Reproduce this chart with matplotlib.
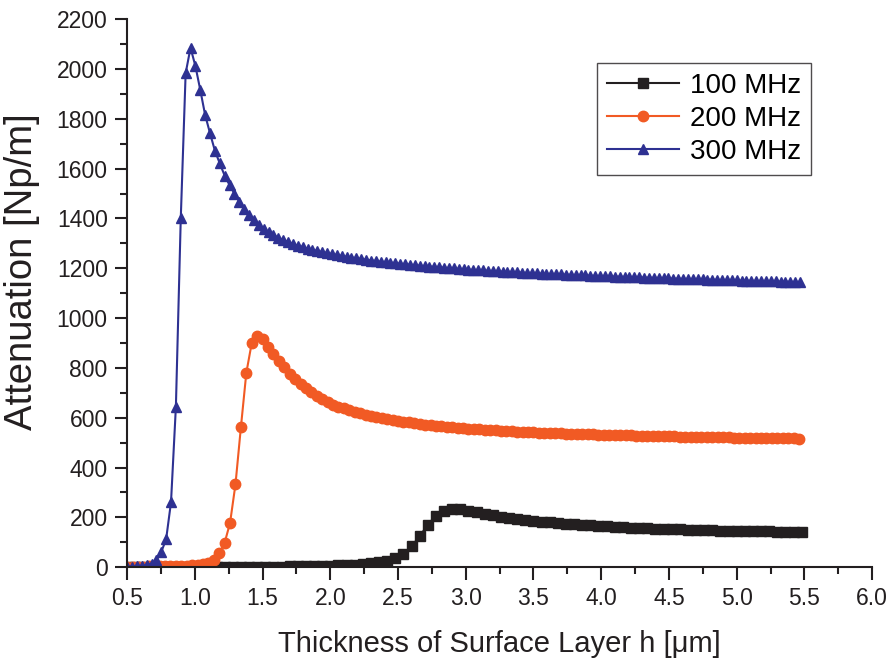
import numpy as np
import matplotlib
matplotlib.use('Agg')
import matplotlib.pyplot as plt
from matplotlib.ticker import MultipleLocator

att_100 = [0, 0, 0, 0, 0, 0, 0, 0, 0, 0, 0,
           1, 1, 1, 1, 1, 1,
           2, 2, 2, 3, 3, 4, 4, 5, 6, 7, 8, 10,
           12, 15, 19, 24, 35, 53, 83, 124, 171, 206, 225, 232, 232,
           226, 220, 214, 208, 202, 197, 193, 189, 186, 183,
           180, 177, 175, 172, 170, 168, 166, 164, 162, 161,
           159, 158, 156, 155, 154, 153, 152, 151, 150, 149,
           148, 147, 147, 146, 145, 145, 144, 144, 143, 143,
           142, 142]

att_200 = [2, 2, 2, 2, 3, 3, 3, 4, 4, 5,
           5, 6, 7, 9, 12, 18, 30, 55, 98, 178,
           333, 562, 780, 900, 929, 916, 885, 855, 827, 802,
           777, 754, 735, 718, 702, 687, 674, 662, 652, 644,
           637, 630, 624, 618, 612, 607, 602, 598, 594, 590,
           587, 584, 581, 578, 575, 572, 570, 567, 565, 563,
           561, 559, 557, 556, 554, 553, 551, 550, 549, 547,
           546, 545, 544, 543, 542, 541, 540, 539, 538, 538,
           537, 536, 535, 535, 534, 533, 533, 532, 531, 531,
           530, 530, 529, 529, 528, 528, 527, 527, 526, 526,
           525, 525, 524, 524, 523, 523, 523, 522, 522, 521,
           521, 521, 520, 520, 520, 519, 519, 519, 518, 518,
           518, 517, 517, 517, 516]

att_300 = [1, 2, 3, 5, 8, 14, 28, 61, 112, 261,
           644, 1400, 1983, 2085, 2012, 1916, 1815, 1742, 1672, 1621,
           1572, 1534, 1500, 1467, 1438, 1414, 1394, 1373, 1357, 1344,
           1333, 1323, 1314, 1306, 1298, 1291, 1285, 1279, 1274, 1269,
           1265, 1261,
           1257, 1253, 1249, 1246, 1243, 1240, 1237, 1234, 1231, 1229,
           1226, 1224, 1222, 1220, 1218, 1216, 1214, 1212, 1210, 1208,
           1207, 1205, 1203, 1202, 1200, 1199, 1197, 1196, 1194, 1193,
           1192, 1191, 1189, 1188, 1187, 1186, 1185, 1184, 1183, 1182,
           1181, 1180, 1179, 1178, 1177, 1176, 1175, 1175, 1174, 1173,
           1172, 1171, 1171, 1170, 1169, 1168, 1168, 1167, 1166, 1166,
           1165, 1164, 1164, 1163, 1162, 1162, 1161, 1160, 1160, 1159,
           1158, 1158, 1157, 1157, 1156, 1155, 1155, 1154, 1154, 1153,
           1152, 1152, 1151, 1151, 1150, 1150, 1149, 1149, 1148, 1148,
           1147, 1147, 1146, 1146, 1145, 1145, 1144]

h_100 = np.linspace(0.5, 5.48, len(att_100))
h_200 = np.linspace(0.5, 5.46, len(att_200))
h_300 = np.linspace(0.5, 5.468, len(att_300))

labels = ['100 MHz', '200 MHz', '300 MHz']

plt.rcParams['font.family'] = ['Liberation Sans', 'DejaVu Sans']

fig = plt.figure(figsize=(8.89, 6.61), dpi=100)
ax = fig.add_axes([0.143, 0.142, 0.838, 0.829])

ax.plot(h_100, att_100, color='#231f20', marker='s', markersize=7, linewidth=1.5, label=labels[0])
ax.plot(h_200, att_200, color='#f15a24', marker='o', markersize=7.5, linewidth=1.5, label=labels[1])
ax.plot(h_300, att_300, color='#2e3192', marker='^', markersize=7.5, linewidth=1.5, label=labels[2])

ax.set_xlim(0.5, 6.0)
ax.set_ylim(0, 2200)
ax.xaxis.set_major_locator(MultipleLocator(0.5))
ax.xaxis.set_minor_locator(MultipleLocator(0.25))
ax.yaxis.set_major_locator(MultipleLocator(200))
ax.yaxis.set_minor_locator(MultipleLocator(100))
ax.xaxis.set_major_formatter(matplotlib.ticker.FormatStrFormatter('%.1f'))

for s in ['top', 'right']:
    ax.spines[s].set_visible(False)
for s in ['left', 'bottom']:
    ax.spines[s].set_linewidth(1.5)
    ax.spines[s].set_color('#231f20')
ax.tick_params(which='major', direction='out', length=9, width=1.5, labelsize=16.5, colors='#231f20', pad=5)
ax.tick_params(which='minor', direction='out', length=5, width=1.5, colors='#231f20')

ax.set_xlabel('Thickness of Surface Layer h [\u03bcm]', fontsize=21, color='#231f20', labelpad=15)
ax.set_ylabel('Attenuation [Np/m]', fontsize=27.5, color='#231f20')
ax.yaxis.set_label_coords(-0.117, 0.54)

leg = ax.legend(loc='upper right', bbox_to_anchor=(0.937, 0.945), fontsize=20, frameon=True,
                fancybox=False, handlelength=2.6, borderpad=0.35, labelspacing=0.25, handletextpad=0.4)
leg.get_frame().set_edgecolor('#231f20')
leg.get_frame().set_linewidth(1.0)

fig.savefig('out.png', dpi=100)
